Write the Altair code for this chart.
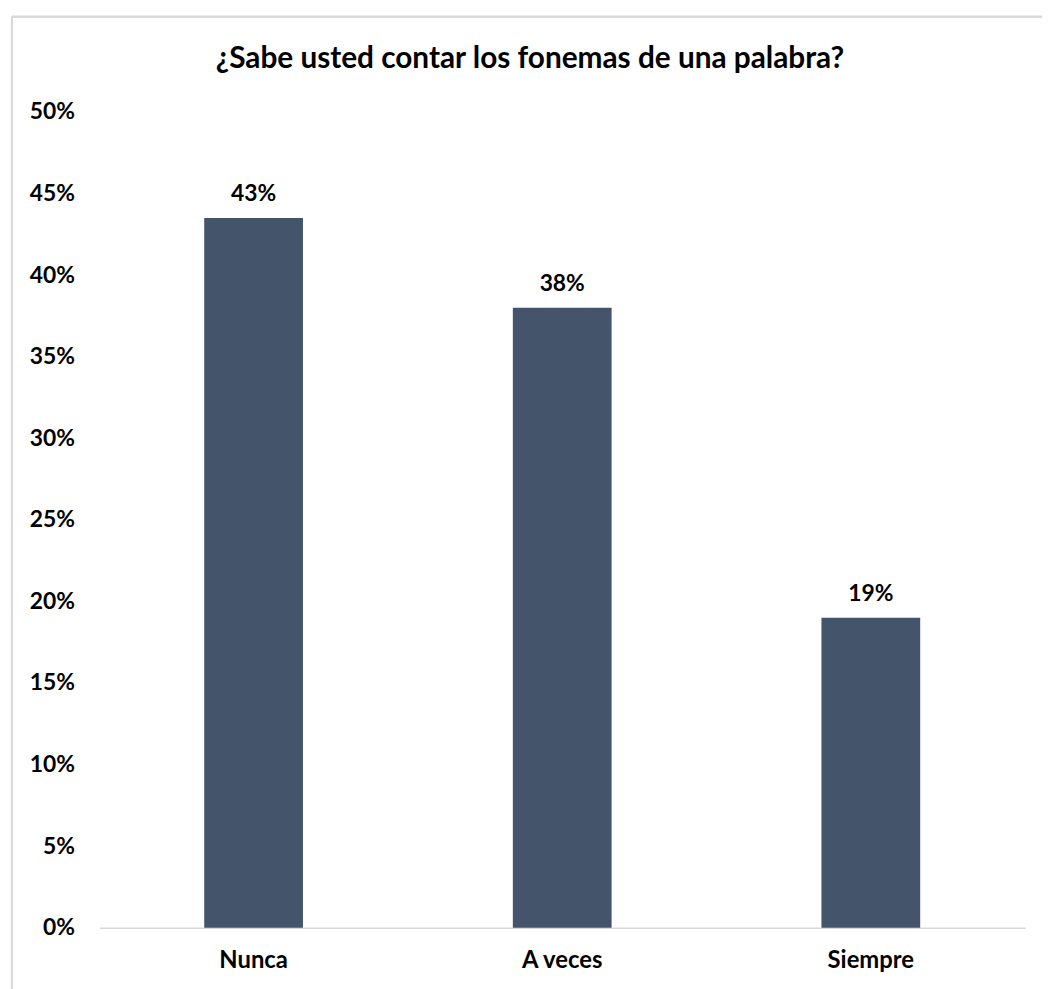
import altair as alt
import pandas as pd

categories = ["Nunca", "A veces", "Siempre"]
values = [0.435, 0.38, 0.19]
labels = ["43%", "38%", "19%"]
y_ticks = [0, 0.05, 0.10, 0.15, 0.20, 0.25, 0.30, 0.35, 0.40, 0.45, 0.50]
title_text = "¿Sabe usted contar los fonemas de una palabra?"

df = pd.DataFrame({"cat": categories, "val": values, "lab": labels})
title_df = pd.DataFrame({"t": [title_text]})

FONT = "Lato"
BAR = "#44546A"
GRAY = "#D9D9D9"

x = alt.X("cat:N", sort=categories, title=None,
          scale=alt.Scale(paddingInner=0.68, paddingOuter=0.34),
          axis=alt.Axis(labelAngle=0, labelFont=FONT, labelFontWeight="bold",
                        labelFontSize=24, labelColor="#000000", labelPadding=21,
                        ticks=False, domainColor=GRAY, domainWidth=1.5))
y = alt.Y("val:Q", title=None,
          scale=alt.Scale(domain=[0, 0.5], nice=False),
          axis=alt.Axis(values=y_ticks, format=".0%", grid=False, domain=False,
                        ticks=False, labelFont=FONT, labelFontWeight="bold",
                        labelFontSize=23, labelColor="#000000", labelPadding=25))

bars = alt.Chart(df).mark_bar(color=BAR).encode(x=x, y=y)
text = alt.Chart(df).mark_text(font=FONT, fontWeight="bold", fontSize=23,
                               color="#000000", baseline="alphabetic", dy=-17).encode(
    x=alt.X("cat:N", sort=categories), y="val:Q", text="lab:N")

title = alt.Chart(title_df).mark_text(font=FONT, fontWeight="bold", fontSize=30,
                                      color="#000000", baseline="alphabetic",
                                      align="center").encode(
    x=alt.value(434), y=alt.value(-44), text="t:N")

frame_left = alt.Chart(df).mark_rule(color=GRAY, strokeWidth=2).encode(
    x=alt.value(-88), y=alt.value(-96), y2=alt.value(900))
frame_top = alt.Chart(df).mark_rule(color=GRAY, strokeWidth=2).encode(
    x=alt.value(-88), x2=alt.value(960), y=alt.value(-96))

chart = alt.layer(frame_left, frame_top, bars, text, title).properties(
    width=933, height=822,
    autosize=alt.AutoSizeParams(type="none"),
    padding={"left": 92, "top": 101, "right": 17, "bottom": 58},
).configure_view(stroke=None)

chart.save("out.html", embed_options={"renderer": "svg", "actions": False})
